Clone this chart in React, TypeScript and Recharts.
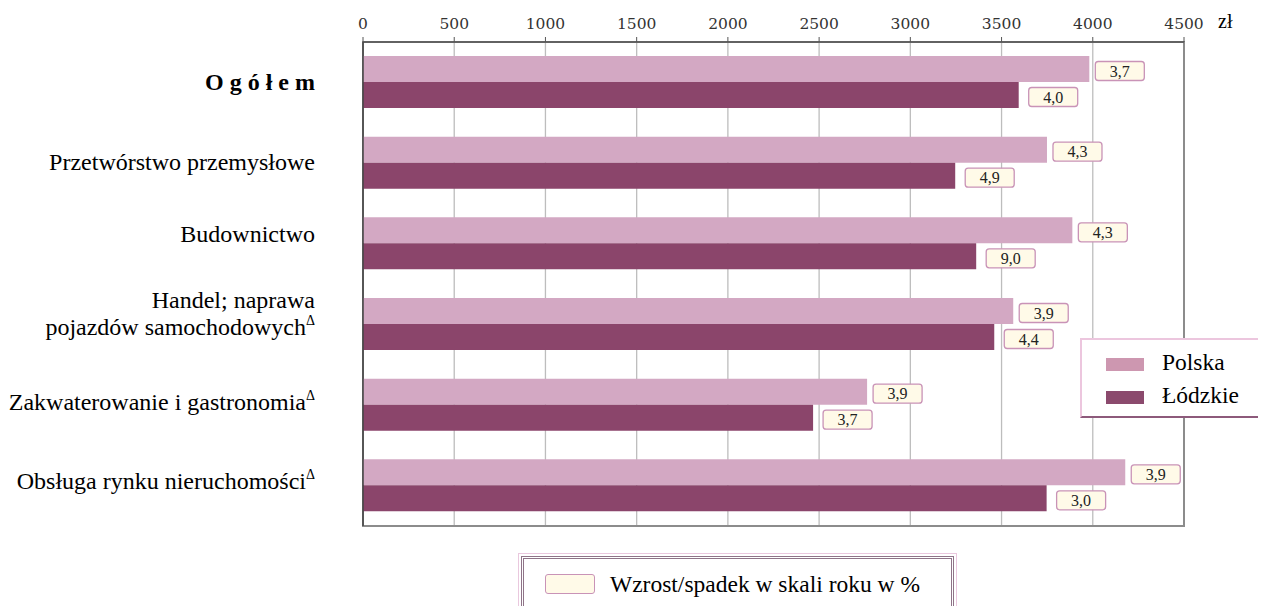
import React from 'react'
import {
  BarChart,
  Bar,
  XAxis,
  YAxis,
  CartesianGrid,
  ReferenceArea,
  LabelList,
  Legend,
} from 'recharts'

const categories = [
  'Ogółem',
  'Przetwórstwo przemysłowe',
  'Budownictwo',
  'Handel; naprawa pojazdów samochodowych',
  'Zakwaterowanie i gastronomia',
  'Obsługa rynku nieruchomości',
]
const deltaMarked = [false, false, false, true, true, true]
const polska = [3981, 3749, 3888, 3564, 2763, 4178]
const lodzkie = [3594, 3246, 3361, 3460, 2467, 3747]
const polskaChange = ['3,7', '4,3', '4,3', '3,9', '3,9', '3,9']
const lodzkieChange = ['4,0', '4,9', '9,0', '4,4', '3,7', '3,0']
const xTicks = [0, 500, 1000, 1500, 2000, 2500, 3000, 3500, 4000, 4500]

const data = categories.map((name, i) => ({
  name,
  polska: polska[i],
  lodzkie: lodzkie[i],
  polskaChange: polskaChange[i],
  lodzkieChange: lodzkieChange[i],
}))

const SERIF = '"Liberation Serif", "Times New Roman", serif'
const POLSKA = '#d3a8c3'
const LODZKIE = '#8b456b'

// small vertical nudges so the labels sit like in the original
const labelNudge = [8, 7, -2, 0, 5, 3]

function CategoryTick(props: any) {
  const { x, y, payload, index } = props
  const tx = x - 46
  const i = index ?? categories.indexOf(payload.value)
  const name: string = payload.value
  const delta = deltaMarked[i] ? (
    <tspan dy={-10} fontSize={14}>Δ</tspan>
  ) : null

  if (i === 0) {
    return (
      <text x={tx} y={y + labelNudge[0]} textAnchor="end" fontFamily={SERIF} fontSize={24} fontWeight="bold" fill="#000">
        O g ó ł e m
      </text>
    )
  }
  if (name.includes('; ')) {
    const cut = name.indexOf('naprawa ') + 7
    return (
      <g>
        <text x={tx} y={y - 16} textAnchor="end" fontFamily={SERIF} fontSize={24} fill="#000">
          {name.slice(0, cut)}
        </text>
        <text x={tx} y={y + 11} textAnchor="end" fontFamily={SERIF} fontSize={24} fill="#000">
          {name.slice(cut + 1)}
          {delta}
        </text>
      </g>
    )
  }
  return (
    <text x={tx} y={y + labelNudge[i]} textAnchor="end" fontFamily={SERIF} fontSize={24} fill="#000">
      {name}
      {delta}
    </text>
  )
}

function ValueTick(props: any) {
  const { x, y, payload } = props
  return (
    <text x={x} y={y - 6} textAnchor="middle" fontFamily='"DejaVu Serif", serif' fontSize={15.5} fill="#333">
      {payload.value}
    </text>
  )
}

const badge = (gap: number) => (props: any) => {
  const x = Number(props.x)
  const y = Number(props.y)
  const w = Number(props.width)
  const h = Number(props.height)
  const bx = x + w + gap
  const cy = y + h / 2 + 2
  return (
    <g>
      <rect x={bx} y={cy - 9.5} width={49} height={19} rx={3} fill="#fffae8" stroke="#c993b7" strokeWidth={1.3} />
      <text x={bx + 24.5} y={cy + 5.5} textAnchor="middle" fontFamily={SERIF} fontSize={16} fill="#222">
        {props.value}
      </text>
    </g>
  )
}

function SeriesLegend() {
  const items = [
    { label: 'Polska', color: '#cd97b0' },
    { label: 'Łódzkie', color: '#8b4a6d' },
  ]
  return (
    <div
      style={{
        position: 'relative',
        width: 182,
        height: 80,
        boxSizing: 'border-box',
        background: '#fff',
        borderTop: '2px solid #ecc6de',
        borderLeft: '2px solid #ecc6de',
        borderRight: '2px solid #8d5a7b',
        borderBottom: '2px solid #8d5a7b',
        fontFamily: SERIF,
        fontSize: 23.5,
        color: '#000',
      }}
    >
      {items.map((it, i) => (
        <div key={it.label}>
          <div style={{ position: 'absolute', left: 24, top: 18 + i * 33, width: 38, height: 13, background: it.color }} />
          <div style={{ position: 'absolute', left: 80, top: 8 + i * 33, lineHeight: '28px' }}>{it.label}</div>
        </div>
      ))}
    </div>
  )
}

export default function App() {
  return (
    <div style={{ position: 'relative', width: 1250, height: 598 }}>
      <BarChart
        width={1250}
        height={598}
        data={data}
        layout="vertical"
        margin={{ top: 0, right: 74, bottom: 80, left: 0 }}
        barSize={26}
        barGap={0}
      >
        <CartesianGrid horizontal={false} stroke="#bdbdbd" strokeWidth={1.3} />
        <ReferenceArea x1={0} x2={4500} fill="none" stroke="#8c8c8c" strokeWidth={2} ifOverflow="visible" />
        <XAxis
          type="number"
          orientation="top"
          domain={[0, 4500]}
          ticks={xTicks}
          height={34}
          axisLine={{ stroke: '#555', strokeWidth: 1.5 }}
          tickLine={{ stroke: '#555' }}
          tickSize={5}
          tick={<ValueTick />}
          label={(p: any) => {
            const vb = p.viewBox
            return (
              <text x={vb.x + vb.width + 34} y={20} fontFamily={SERIF} fontSize={20} fill="#000">
                zł
              </text>
            )
          }}
        />
        <YAxis
          type="category"
          dataKey="name"
          width={355}
          axisLine={{ stroke: '#444', strokeWidth: 1.5 }}
          tickLine={false}
          tickSize={0}
          tick={<CategoryTick />}
          interval={0}
        />
        <Legend
          layout="horizontal"
          verticalAlign="middle"
          align="center"
          wrapperStyle={{ left: 1072, top: 330, width: 182, height: 80 }}
          content={() => <SeriesLegend />}
        />
        <Bar dataKey="polska" name="Polska" fill={POLSKA} isAnimationActive={false}>
          <LabelList dataKey="polskaChange" content={badge(6)} />
        </Bar>
        <Bar dataKey="lodzkie" name="Łódzkie" fill={LODZKIE} isAnimationActive={false}>
          <LabelList dataKey="lodzkieChange" content={badge(10)} />
        </Bar>
      </BarChart>

      {/* change legend under the plot */}
      <div
        style={{
          position: 'absolute',
          left: 510,
          top: 545,
          width: 439,
          height: 59,
          boxSizing: 'border-box',
          border: '1.5px solid #eac8de',
          padding: 2,
        }}
      >
        <div
          style={{
            position: 'relative',
            width: '100%',
            height: '100%',
            boxSizing: 'border-box',
            border: '3px double #8f7488',
            fontFamily: SERIF,
            fontSize: 23.5,
          }}
        >
          <div
            style={{
              position: 'absolute',
              left: 21,
              top: 15,
              width: 50,
              height: 20,
              boxSizing: 'border-box',
              background: '#fffae8',
              border: '1.3px solid #c993b7',
              borderRadius: 3,
            }}
          />
          <div style={{ position: 'absolute', left: 86, top: 11, lineHeight: '28px' }}>Wzrost/spadek w skali roku w %</div>
        </div>
      </div>
    </div>
  )
}
